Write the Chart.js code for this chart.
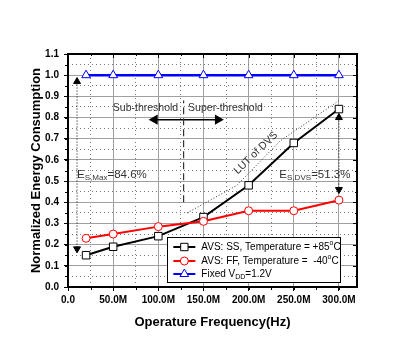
<!DOCTYPE html>
<html>
<head>
<meta charset="utf-8">
<script src="https://cdn.jsdelivr.net/npm/chart.js@4/dist/chart.umd.min.js"></script>
<style>
  html, body { margin: 0; padding: 0; background: #fff; }
  #wrap { width: 408px; height: 353px; }
</style>
</head>
<body>
<div id="wrap"><canvas id="energy"></canvas></div>
<script>
// data block (frequency in MHz)
const freqs = [20, 50, 100, 150, 200, 250, 300];
const ssValues = [0.15, 0.19, 0.24, 0.33, 0.48, 0.68, 0.84];
const ffValues = [0.23, 0.25, 0.285, 0.31, 0.36, 0.36, 0.41];
const fixedValues = [1.0, 1.0, 1.0, 1.0, 1.0, 1.0, 1.0];
const lutFreqs = [132, 187, 235, 300];
const lutValues = [0.35, 0.48, 0.69, 0.88];
const boundaryFreqs = [128, 128];
const boundaryValues = [0.40, 0.88];
const maxArrowFreqs = [10, 10];
const maxArrowValues = [0.97, 0.18];
const dvsArrowFreqs = [300, 300];
const dvsArrowValues = [0.80, 0.46];
const regionArrowFreqs = [96, 166];
const regionArrowValues = [0.79, 0.79];
const legendLabels = ['AVS: SS, Temperature = +85', 'AVS: FF, Temperature =  -40', 'Fixed V'];

const FONT = '"Liberation Sans", Arial, sans-serif';
const pts = (xs, ys) => xs.map((x, i) => ({x: x, y: ys[i]}));

const data = {
  datasets: [
    {
      data: pts(freqs, fixedValues), borderColor: '#0000ff', borderWidth: 2.5,
      pointStyle: 'triangle', pointRadius: 5, pointBackgroundColor: '#fff',
      pointBorderColor: '#0000ff', pointBorderWidth: 1
    },
    {
      data: pts(freqs, ffValues), borderColor: '#ff0000', borderWidth: 2,
      pointStyle: 'circle', pointRadius: 4, pointBackgroundColor: '#fff',
      pointBorderColor: '#ff0000', pointBorderWidth: 1
    },
    {
      data: pts(lutFreqs, lutValues), borderColor: '#333', borderWidth: 1,
      borderDash: [1, 2], pointRadius: 0
    },
    {
      data: pts(freqs, ssValues), borderColor: '#000', borderWidth: 2,
      pointStyle: 'rect', pointRadius: 5.3, pointBackgroundColor: '#fff',
      pointBorderColor: '#000', pointBorderWidth: 1
    },
    {
      data: pts(boundaryFreqs, boundaryValues), borderColor: '#333', borderWidth: 1.2,
      borderDash: [7, 4], pointRadius: 0
    },
    {
      data: pts(maxArrowFreqs, maxArrowValues), borderColor: '#000', borderWidth: 1,
      borderDash: [1, 2], pointStyle: 'triangle', pointRadius: 4,
      pointRotation: [0, 180], pointBackgroundColor: '#000', pointBorderColor: '#000'
    },
    {
      data: pts(dvsArrowFreqs, dvsArrowValues), borderColor: '#000', borderWidth: 1,
      borderDash: [1, 2], pointStyle: 'triangle', pointRadius: 4,
      pointRotation: [0, 180], pointBackgroundColor: '#000', pointBorderColor: '#000'
    },
    {
      data: pts(regionArrowFreqs, regionArrowValues), borderColor: '#000', borderWidth: 1.5,
      pointStyle: 'triangle', pointRadius: 4.5,
      pointRotation: [270, 90], pointBackgroundColor: '#000', pointBorderColor: '#000'
    }
  ]
};

// text with sub/superscripts
function rich(ctx, parts, x, y, size, color) {
  ctx.fillStyle = color;
  ctx.textBaseline = 'middle';
  ctx.textAlign = 'left';
  parts.forEach(p => {
    const s = p.small ? size * 0.7 : size;
    ctx.font = s + 'px ' + FONT;
    ctx.fillText(p.t, x, y + (p.dy || 0));
    x += ctx.measureText(p.t).width;
  });
}

const extras = {
  id: 'extras',
  afterDatasetsDraw(chart) {
    const {ctx, chartArea: a, scales: {x, y, x2, y2}} = chart;
    ctx.save();
    // frame, inner ticks on top/right, short minor ticks
    ctx.strokeStyle = '#000';
    ctx.lineWidth = 2;
    ctx.strokeRect(a.left, a.top, a.right - a.left, a.bottom - a.top);
    ctx.lineWidth = 1;
    x.ticks.forEach(t => {
      const px = Math.round(x.getPixelForValue(t.value)) + 0.5;
      ctx.beginPath(); ctx.moveTo(px, a.top); ctx.lineTo(px, a.top + 4); ctx.stroke();
    });
    y.ticks.forEach(t => {
      const py = Math.round(y.getPixelForValue(t.value)) + 0.5;
      ctx.beginPath(); ctx.moveTo(a.right, py); ctx.lineTo(a.right - 4, py); ctx.stroke();
    });
    x2.ticks.forEach(t => {
      const px = Math.round(x2.getPixelForValue(t.value)) + 0.5;
      ctx.beginPath(); ctx.moveTo(px, a.bottom); ctx.lineTo(px, a.bottom + 3); ctx.stroke();
      ctx.beginPath(); ctx.moveTo(px, a.top); ctx.lineTo(px, a.top + 2); ctx.stroke();
    });
    y2.ticks.forEach(t => {
      const py = Math.round(y2.getPixelForValue(t.value)) + 0.5;
      ctx.beginPath(); ctx.moveTo(a.left, py); ctx.lineTo(a.left - 3, py); ctx.stroke();
      ctx.beginPath(); ctx.moveTo(a.right, py); ctx.lineTo(a.right - 2, py); ctx.stroke();
    });

    // annotations
    ctx.font = '10.5px ' + FONT;
    ctx.fillStyle = '#333';
    ctx.textBaseline = 'middle';
    ctx.textAlign = 'right';
    ctx.fillText('Sub-threshold', x.getPixelForValue(122), y.getPixelForValue(0.845));
    ctx.textAlign = 'left';
    ctx.fillText('Super-threshold', x.getPixelForValue(133), y.getPixelForValue(0.845));

    rich(ctx, [{t: 'E'}, {t: 'S,Max', small: true, dy: 3}, {t: '=84.6%'}],
      x.getPixelForValue(10), y.getPixelForValue(0.53), 11.5, '#333');
    rich(ctx, [{t: 'E'}, {t: 'S,DVS', small: true, dy: 3}, {t: '=51.3%'}],
      x.getPixelForValue(234), y.getPixelForValue(0.53), 11.5, '#333');

    ctx.save();
    ctx.translate(x.getPixelForValue(208), y.getPixelForValue(0.633));
    ctx.rotate(-44 * Math.PI / 180);
    ctx.font = '10.5px ' + FONT;
    ctx.fillStyle = '#333';
    ctx.textAlign = 'center';
    ctx.fillText('LUT of DVS', 0, 0);
    ctx.restore();

    // legend box
    const lx = x.getPixelForValue(110), rx = x.getPixelForValue(302);
    const ty = y.getPixelForValue(0.236), by = y.getPixelForValue(0.024);
    ctx.fillStyle = '#fff';
    ctx.fillRect(lx, ty, rx - lx, by - ty);
    ctx.strokeStyle = '#000';
    ctx.lineWidth = 1;
    ctx.strokeRect(Math.round(lx) + 0.5, Math.round(ty) + 0.5, Math.round(rx - lx), Math.round(by - ty));
    const rows = [ty + 10, ty + 24, ty + 37];
    const colors = ['#000', '#ff0000', '#0000ff'];
    rows.forEach((ry, i) => {
      ctx.strokeStyle = colors[i];
      ctx.lineWidth = 2;
      ctx.beginPath(); ctx.moveTo(lx + 6, ry); ctx.lineTo(lx + 28, ry); ctx.stroke();
      ctx.lineWidth = 1;
      ctx.fillStyle = '#fff';
      const cx = lx + 17;
      ctx.beginPath();
      if (i === 0) ctx.rect(cx - 3.7, ry - 3.7, 7.4, 7.4);
      else if (i === 1) ctx.arc(cx, ry, 4, 0, Math.PI * 2);
      else { ctx.moveTo(cx, ry - 5); ctx.lineTo(cx + 4.3, ry + 2.5); ctx.lineTo(cx - 4.3, ry + 2.5); ctx.closePath(); }
      ctx.fill(); ctx.stroke();
      const tx = lx + 34;
      if (i < 2) rich(ctx, [{t: legendLabels[i]}, {t: 'o', small: true, dy: -4}, {t: 'C'}], tx, ry, 10, '#000');
      else rich(ctx, [{t: legendLabels[i]}, {t: 'DD', small: true, dy: 3}, {t: '=1.2V'}], tx, ry, 10, '#000');
    });
    ctx.restore();
  }
};

const config = {
  type: 'line',
  data,
  options: {
    responsive: true,
    maintainAspectRatio: false,
    animation: false,
    layout: { padding: { top: 54, right: 51, left: 0, bottom: 0 } },
    plugins: { legend: { display: false }, tooltip: { enabled: false } },
    scales: {
      x: {
        type: 'linear', min: 0, max: 320, position: 'bottom',
        afterFit: s => { s.height = 66; },
        ticks: {
          stepSize: 50, includeBounds: false, color: '#000', padding: 3,
          font: { family: FONT, size: 10, weight: 'bold' },
          callback: v => v === 0 ? '0.0' : v.toFixed(1) + 'M'
        },
        grid: { color: '#a0a0a0', lineWidth: 1, tickColor: '#000', tickLength: 4 },
        border: { color: '#000', width: 2 },
        title: {
          display: true, text: 'Operature Frequency(Hz)', color: '#000',
          font: { family: FONT, size: 13, weight: 'bold' }, padding: { top: 0, bottom: 23 }
        }
      },
      x2: {
        type: 'linear', min: 0, max: 320, position: 'bottom', display: true,
        afterFit: s => { s.height = 0; },
        ticks: { display: false, stepSize: 25, includeBounds: false },
        grid: { drawTicks: false, lineWidth: 1, color: c => (c.tick && c.tick.value % 50) ? '#7a7a7a' : 'rgba(0,0,0,0)' },
        border: { display: false, dash: [1, 3] }
      },
      y: {
        min: 0, max: 1.1,
        afterFit: s => { s.width = 68; },
        ticks: {
          stepSize: 0.1, color: '#000', padding: 5,
          font: { family: FONT, size: 10, weight: 'bold' },
          callback: v => v.toFixed(1)
        },
        grid: { color: '#a0a0a0', lineWidth: 1, tickColor: '#000', tickLength: 4 },
        border: { color: '#000', width: 2 },
        title: {
          display: true, text: 'Normalized Energy Consumption', color: '#000',
          font: { family: FONT, size: 13, weight: 'bold' }, padding: { top: 29, bottom: 0 }
        }
      },
      y2: {
        min: 0, max: 1.1, position: 'left', display: true,
        afterFit: s => { s.width = 0; },
        ticks: { display: false, stepSize: 0.05 },
        grid: { drawTicks: false, lineWidth: 1, color: c => (c.tick && Math.round(c.tick.value * 100) % 10) ? '#7a7a7a' : 'rgba(0,0,0,0)' },
        border: { display: false, dash: [1, 3] }
      }
    }
  },
  plugins: [extras]
};

const energyChart = new Chart(document.getElementById('energy'), config);
</script>
</body>
</html>
